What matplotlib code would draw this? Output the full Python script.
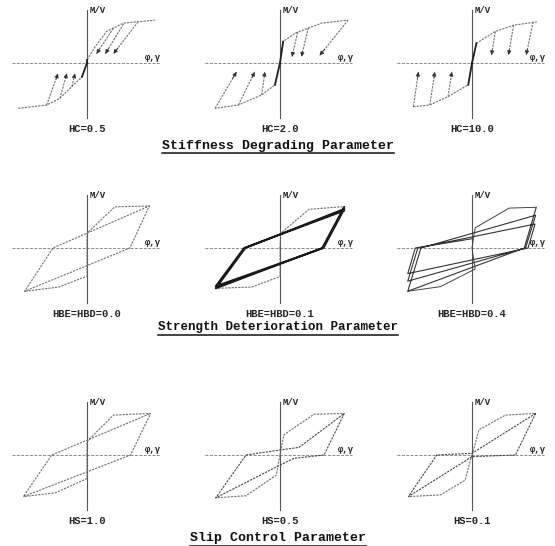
import matplotlib.pyplot as plt
from matplotlib.lines import Line2D

W, H = 555, 546
fig = plt.figure(figsize=(W / 100, H / 100), dpi=100)
fig.patch.set_facecolor('white')

MONO = ['Liberation Mono', 'DejaVu Sans Mono']
INK = '#707070'
DASH = (0, (2.0, 1.0))

# panel origins (pixels) and pixel size of one unit of phi / M
col_x = [87, 280, 472]
row_y = [63, 248, 455]
ux, uy = 63.0, 42.0
half_w, half_h = 80, 58

captions = [["HC=0.5", "HC=2.0", "HC=10.0"],
            ["HBE=HBD=0.0", "HBE=HBD=0.1", "HBE=HBD=0.4"],
            ["HS=1.0", "HS=0.5", "HS=0.1"]]
titles = ["Stiffness Degrading Parameter",
          "Strength Deterioration Parameter",
          "Slip Control Parameter"]
title_y = [146, 327, 538]
title_size = [9.5, 9.0, 9.5]

# ---- stiffness degrading (envelope + unloading branches with arrows)
hc05_pos_x = [0, 0.0, 0.13, 0.31, 0.58, 1.08]
hc05_pos_y = [0, 0.07, 0.39, 0.75, 0.95, 1.02]
hc05_neg_x = [0, -0.08, -0.24, -0.43, -0.64, -1.09]
hc05_neg_y = [0, -0.33, -0.56, -0.84, -1.00, -1.08]
hc05_unload = [((0.81, 0.98), (0.42, 0.22)), ((0.58, 0.93), (0.29, 0.22)),
               ((0.42, 0.83), (0.15, 0.22)), ((-0.64, -1.00), (-0.46, -0.25)),
               ((-0.43, -0.84), (-0.32, -0.25)), ((-0.24, -0.56), (-0.19, -0.25))]

hc20_pos_x = [0, 0.05, 0.24, 0.66, 1.08]
hc20_pos_y = [0, 0.51, 0.71, 0.95, 1.02]
hc20_neg_x = [0, -0.08, -0.29, -0.66, -1.03]
hc20_neg_y = [0, -0.52, -0.76, -1.00, -1.08]
hc20_unload = [((1.08, 1.02), (0.63, 0.18)), ((0.45, 0.84), (0.34, 0.15)),
               ((0.28, 0.73), (0.19, 0.15)), ((-1.03, -1.08), (-0.69, -0.21)),
               ((-0.66, -1.00), (-0.40, -0.21)), ((-0.29, -0.76), (-0.24, -0.21))]

hc10_pos_x = [0, 0.07, 0.37, 0.66, 1.03]
hc10_pos_y = [0, 0.47, 0.75, 0.90, 0.98]
hc10_neg_x = [0, -0.06, -0.38, -0.67, -0.93]
hc10_neg_y = [0, -0.52, -0.80, -1.00, -1.04]
hc10_unload = [((0.37, 0.75), (0.31, 0.19)), ((0.66, 0.90), (0.58, 0.19)),
               ((0.97, 0.98), (0.86, 0.19)), ((-0.93, -1.04), (-0.85, -0.21)),
               ((-0.67, -1.00), (-0.59, -0.21)), ((-0.38, -0.80), (-0.32, -0.21))]

# ---- strength deterioration (loading history)
hbe00_x = [0, 0.0, 0.44, 0.99, 0.68, -0.99, -0.54, 0.99]
hbe00_y = [0, 0.35, 0.98, 1.00, 0.0, -1.03, 0.0, 1.00]
hbe00_neg_x = [0, 0.0, -0.45, -0.99]
hbe00_neg_y = [0, -0.67, -0.93, -1.03]

hbe01_env_x = [0, 0.01, 0.46, 0.96, 1.02]
hbe01_env_y = [0, 0.35, 0.92, 0.98, 0.98]
hbe01_neg_x = [0, 0.0, -0.45, -1.02]
hbe01_neg_y = [0, -0.68, -0.93, -0.96]
hbe01_x = [1.02, 0.67, -1.02, -0.55, 1.02, 0.69, -1.02, -0.57, 1.02]
hbe01_y = [0.98, 0.0, -0.96, 0.0, 0.93, 0.0, -0.91, 0.0, 0.89]

hbe04_env_x = [0, 0.05, 0.59, 1.02]
hbe04_env_y = [0, 0.48, 0.95, 0.97]
hbe04_neg_x = [0, 0.05, -0.50, -1.02]
hbe04_neg_y = [0, -0.50, -0.92, -1.03]
hbe04_x = [1.02, 0.83, -1.02, -0.81, 1.01, 0.85, -1.02, -0.86, 1.00, 0.89, -1.02, -0.90, 0.0]
hbe04_y = [0.97, 0.0, -1.03, 0.0, 0.78, 0.0, -0.79, 0.0, 0.57, 0.0, -0.61, 0.0, 0.22]

# ---- slip control
hs10_x = [0, 0.0, 0.42, 1.01, 0.69, -1.01, -0.56, 1.01]
hs10_y = [0, 0.32, 0.95, 0.99, 0.0, -0.99, 0.0, 0.99]
hs10_neg_x = [0, 0.0, -0.50, -1.01]
hs10_neg_y = [0, -0.56, -0.90, -0.99]

hs05_env_x = [0, 0.06, 0.54, 1.02]
hs05_env_y = [0, 0.48, 0.97, 0.99]
hs05_neg_x = [0, -0.06, -0.54, -1.02]
hs05_neg_y = [0, -0.48, -0.97, -1.02]
hs05_x = [1.02, 0.70, 0.22, 0.0, -1.02, -0.54, 0.0, 0.30, 1.02]
hs05_y = [0.99, 0.0, -0.08, -0.24, -1.02, 0.0, 0.12, 0.18, 0.99]

hs01_env_x = [0, 0.02, 0.11, 0.53, 1.01]
hs01_env_y = [0, 0.10, 0.60, 0.95, 0.99]
hs01_neg_x = [0, -0.02, -0.11, -0.50, -1.01]
hs01_neg_y = [0, -0.10, -0.60, -0.95, -0.99]
hs01_x = [1.01, 0.69, 0.0, -1.01, -0.56, 0.0, 1.01]
hs01_y = [0.99, 0.0, -0.04, -0.99, 0.0, 0.04, 0.99]


def make_axes(i, j):
    ox, oy = col_x[j], row_y[i]
    ax = fig.add_axes([(ox - half_w) / W, (H - oy - half_h) / H,
                       2 * half_w / W, 2 * half_h / H])
    ax.set_xlim(-half_w / ux, half_w / ux)
    ax.set_ylim(-half_h / uy, half_h / uy)
    ax.axis('off')
    # M/V and phi,gamma axes
    ax.axhline(0, 0.03, 0.95, color='#8a8a8a', lw=0.7, ls=(0, (3, 1.5)))
    ax.axvline(0, 0.03, 0.96, color='#555555', lw=0.8)
    ax.text(0.04, 1.25, 'M/V', fontsize=6.5, fontweight='bold', family=MONO,
            ha='left', va='center', color='#222222')
    ax.text(0.92, 0.03, 'φ,γ', fontsize=6.5, fontweight='bold', family=MONO,
            ha='left', va='bottom', color='#222222')
    ax.text(0, -1.56, captions[i][j], fontsize=7.5, fontweight='bold', family=MONO,
            ha='center', va='center', color='#222222', clip_on=False)
    return ax


def curve(ax, xs, ys, lw=0.8, color=INK, ls=DASH):
    ax.plot(xs, ys, color=color, lw=lw, ls=ls, solid_capstyle='round')


def unload_arrows(ax, pairs):
    for (x0, y0), (x1, y1) in pairs:
        curve(ax, [x0, x1], [y0, y1])
        bx, by = x1 - 0.18 * (x1 - x0), y1 - 0.18 * (y1 - y0)
        ax.annotate('', xy=(x1, y1), xytext=(bx, by),
                    arrowprops=dict(arrowstyle='-|>', color='#333333', lw=0.6,
                                    mutation_scale=6, shrinkA=0, shrinkB=0))


# row 1: stiffness degrading
for j, (px, py, nx, ny, un) in enumerate([
        (hc05_pos_x, hc05_pos_y, hc05_neg_x, hc05_neg_y, hc05_unload),
        (hc20_pos_x, hc20_pos_y, hc20_neg_x, hc20_neg_y, hc20_unload),
        (hc10_pos_x, hc10_pos_y, hc10_neg_x, hc10_neg_y, hc10_unload)]):
    ax = make_axes(0, j)
    curve(ax, px, py)
    curve(ax, nx, ny)
    # initial stiffness drawn heavier
    ax.plot(px[:2], py[:2], color='#222222', lw=1.3)
    ax.plot(nx[:2], ny[:2], color='#222222', lw=1.3)
    unload_arrows(ax, un)

# row 2: strength deterioration
ax = make_axes(1, 0)
curve(ax, hbe00_x, hbe00_y)
curve(ax, hbe00_neg_x, hbe00_neg_y)

ax = make_axes(1, 1)
curve(ax, hbe01_env_x, hbe01_env_y)
curve(ax, hbe01_neg_x, hbe01_neg_y)
curve(ax, hbe01_x, hbe01_y, lw=1.4, color='#1a1a1a', ls='-')

ax = make_axes(1, 2)
curve(ax, hbe04_env_x, hbe04_env_y, color='#444444', ls='-', lw=0.7)
curve(ax, hbe04_neg_x, hbe04_neg_y, color='#444444', ls='-', lw=0.7)
curve(ax, hbe04_x, hbe04_y, color='#333333', ls='-', lw=0.8)

# row 3: slip control
ax = make_axes(2, 0)
curve(ax, hs10_x, hs10_y)
curve(ax, hs10_neg_x, hs10_neg_y)

ax = make_axes(2, 1)
curve(ax, hs05_env_x, hs05_env_y)
curve(ax, hs05_neg_x, hs05_neg_y)
curve(ax, hs05_x, hs05_y, color='#444444')

ax = make_axes(2, 2)
curve(ax, hs01_env_x, hs01_env_y)
curve(ax, hs01_neg_x, hs01_neg_y)
curve(ax, hs01_x, hs01_y, color='#444444')

# underlined row titles
fig.canvas.draw()
inv = fig.transFigure.inverted()
for t, ty, fs in zip(titles, title_y, title_size):
    txt = fig.text(0.5, 1 - ty / H, t, fontsize=fs, fontweight='bold',
                   family=MONO, ha='center', va='center', color='#111111')
    bb = txt.get_window_extent(renderer=fig.canvas.get_renderer())
    (x0, y0), (x1, _) = inv.transform([(bb.x0, bb.y0 - 1.5), (bb.x1, bb.y0)])
    fig.add_artist(Line2D([x0, x1], [y0, y0], transform=fig.transFigure,
                          color='#111111', lw=1.1))

fig.savefig('out.png', dpi=100, facecolor='white')
